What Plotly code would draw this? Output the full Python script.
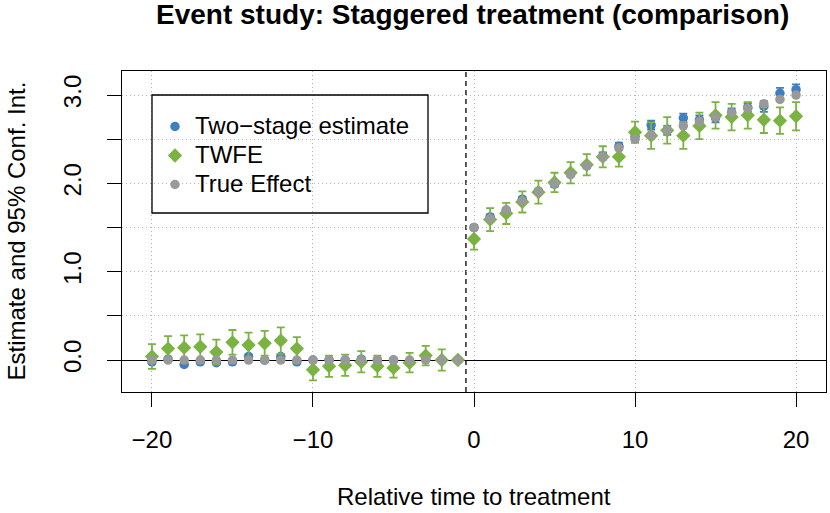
import plotly.graph_objects as go

# ---- data ----
rel_time = list(range(-20, 21))

true_effect = [0.0]*20 + [1.50, 1.60, 1.70, 1.80, 1.90, 2.00, 2.10, 2.20, 2.30, 2.40, 2.50,
                          2.55, 2.60, 2.65, 2.70, 2.75, 2.80, 2.85, 2.90, 2.95, 3.00]

two_stage = [-0.02, 0.01, -0.05, -0.02, -0.03, -0.02, 0.04, 0.00, 0.04, -0.02,
             0.00, 0.00, 0.00, 0.01, 0.00, 0.00, -0.03, 0.01, 0.00, 0.00,
             1.50, 1.62, 1.69, 1.82, 1.91, 1.99, 2.11, 2.20, 2.31, 2.42, 2.53,
             2.66, 2.60, 2.74, 2.72, 2.74, 2.80, 2.86, 2.87, 3.02, 3.06]
two_stage_ci = [0.02]*20 + [0.03, 0.03, 0.03, 0.03, 0.03, 0.03, 0.03, 0.03, 0.04, 0.04, 0.04,
                            0.05, 0.05, 0.05, 0.05, 0.05, 0.05, 0.05, 0.06, 0.06, 0.06]

twfe = [0.04, 0.13, 0.14, 0.15, 0.09, 0.20, 0.17, 0.19, 0.22, 0.13,
        -0.11, -0.07, -0.06, -0.02, -0.07, -0.09, -0.03, 0.05, 0.00, 0.00,
        1.37, 1.59, 1.66, 1.79, 1.90, 2.01, 2.12, 2.21, 2.30, 2.30, 2.58,
        2.54, 2.60, 2.54, 2.65, 2.77, 2.75, 2.77, 2.72, 2.71, 2.76]
twfe_ci = [0.14, 0.14, 0.14, 0.14, 0.14, 0.14, 0.14, 0.14, 0.15, 0.13,
           0.12, 0.12, 0.12, 0.12, 0.12, 0.11, 0.11, 0.11, 0.12, 0.01,
           0.12, 0.13, 0.12, 0.12, 0.13, 0.11, 0.12, 0.12, 0.12, 0.11, 0.12,
           0.15, 0.15, 0.15, 0.15, 0.15, 0.15, 0.15, 0.15, 0.15, 0.16]

x_ticks = [-20, -10, 0, 10, 20]
y_ticks = [0.0, 0.5, 1.0, 1.5, 2.0, 2.5, 3.0]
y_tick_labels = ["0.0", "", "1.0", "", "2.0", "", "3.0"]
series_names = ["Two\u2212stage estimate", "TWFE", "True Effect"]

BLUE = "#3F7FBF"
GREEN = "#7AB342"
GRAY = "#999999"
GRID = "#B4B4B4"
FONT = "Liberation Sans, Arial, sans-serif"

def leg(name):
    return '<span style="font-size:24px">' + name + '</span>'

fig = go.Figure()
fig.add_trace(go.Scatter(
    x=rel_time, y=two_stage, mode="markers", name=leg(series_names[0]),
    marker=dict(symbol="circle", size=9.5, color=BLUE),
    error_y=dict(type="data", array=two_stage_ci, color=BLUE, thickness=1.8, width=4),
))
fig.add_trace(go.Scatter(
    x=rel_time, y=twfe, mode="markers", name=leg(series_names[1]),
    marker=dict(symbol="diamond", size=11, color=GREEN),
    error_y=dict(type="data", array=twfe_ci, color=GREEN, thickness=1.8, width=4),
))
fig.add_trace(go.Scatter(
    x=rel_time, y=true_effect, mode="markers", name=leg(series_names[2]),
    marker=dict(symbol="circle", size=9.5, color=GRAY),
))

L, R, T, B = 122, 4, 71, 121
W, H = 830, 513
pw, ph = W - L - R, H - T - B

def px_x(p):
    return (p - L) / pw

def px_y(p):
    return (H - B - p) / ph

fig.update_layout(
    width=W, height=H,
    margin=dict(l=L, r=R, t=T, b=B, pad=0),
    paper_bgcolor="white", plot_bgcolor="white",
    font=dict(family=FONT, size=24, color="black"),
    showlegend=True,
    legend=dict(
        x=px_x(155), y=px_y(107), xanchor="left", yanchor="top",
        bgcolor="rgba(0,0,0,0)", borderwidth=0,
        font=dict(size=20), itemsizing="trace",
    ),
    xaxis=dict(
        range=[-21.86, 21.86], tickvals=x_ticks,
        ticktext=[str(v).replace("-", "\u2212") for v in x_ticks],
        ticks="outside", ticklen=14, tickwidth=1, tickcolor="black",
        ticklabelstandoff=12,
        showline=True, linecolor="black", linewidth=1, mirror=True,
        showgrid=True, gridcolor=GRID, griddash="1px,3px", gridwidth=1,
        zeroline=False,
    ),
    yaxis=dict(
        range=[-0.362, 3.272], tickvals=y_ticks, ticktext=y_tick_labels,
        tickangle=-90,
        ticks="outside", ticklen=14, tickwidth=1, tickcolor="black",
        ticklabelstandoff=16,
        showline=True, linecolor="black", linewidth=1, mirror=True,
        showgrid=True, gridcolor=GRID, griddash="1px,3px", gridwidth=1,
        zeroline=True, zerolinecolor="black", zerolinewidth=1.2,
    ),
    shapes=[
        dict(type="line", xref="x", yref="paper", x0=-0.5, x1=-0.5, y0=0, y1=1,
             line=dict(color="black", width=1.3, dash="5px,4px"), layer="below"),
        dict(type="rect", xref="paper", yref="paper",
             x0=px_x(152), x1=px_x(428), y0=px_y(213), y1=px_y(95),
             line=dict(color="black", width=1.3), fillcolor="rgba(0,0,0,0)", layer="above"),
    ],
    annotations=[
        dict(text="<b>Event study: Staggered treatment (comparison)</b>",
             xref="paper", yref="paper", x=px_x(472), y=px_y(15), xanchor="center", yanchor="middle",
             showarrow=False, font=dict(size=28)),
        dict(text="Relative time to treatment", xref="paper", yref="paper",
             x=0.5, y=px_y(496), xanchor="center", yanchor="middle", showarrow=False,
             font=dict(size=24)),
        dict(text="Estimate and 95% Conf. Int.", xref="paper", yref="paper",
             x=px_x(16), y=0.5, xanchor="center", yanchor="middle", textangle=-90,
             showarrow=False, font=dict(size=24)),
    ],
)

fig.write_html("out.html", config={"displayModeBar": False},
               post_script="document.body.style.margin='0';document.body.style.padding='0';")
